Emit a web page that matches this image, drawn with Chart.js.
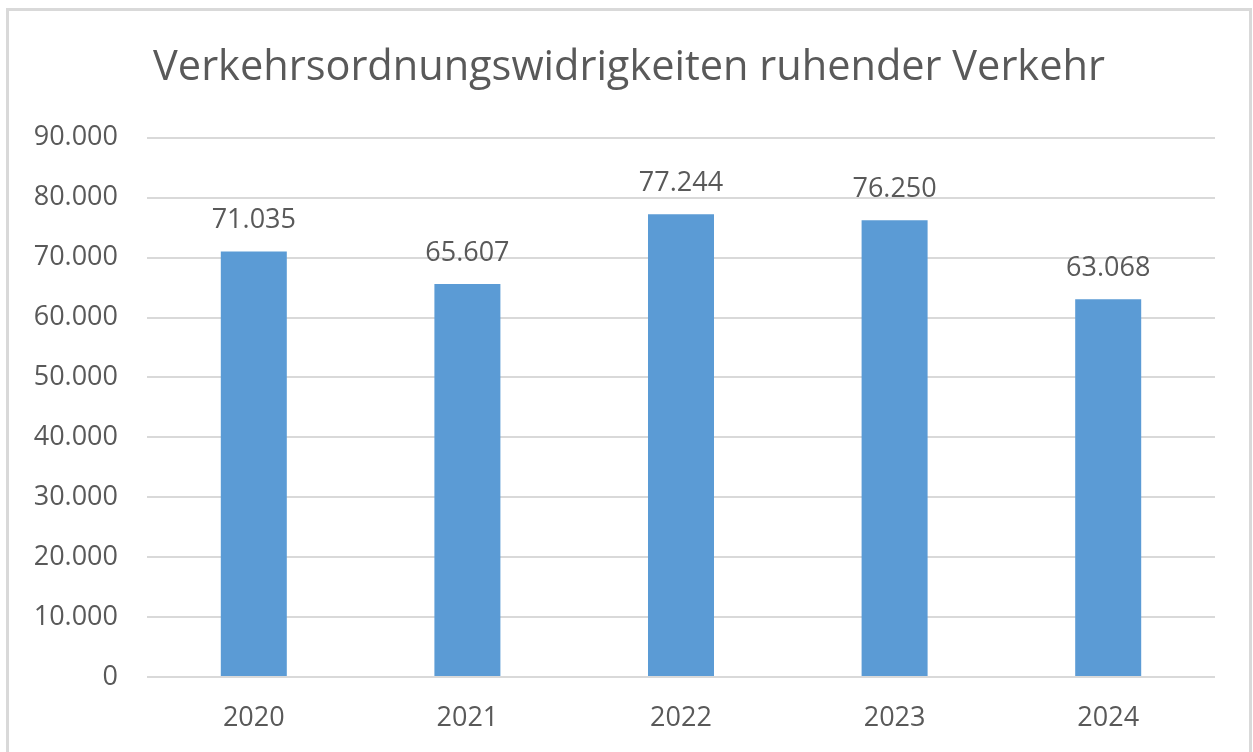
<!DOCTYPE html>
<html>
<head>
<meta charset="utf-8">
<script src="https://cdn.jsdelivr.net/npm/chart.js@4.4.1/dist/chart.umd.min.js"></script>
<style>
  html, body { margin: 0; padding: 0; background: #fff; overflow: hidden; }
  #frame { position: absolute; left: 6px; top: 8px; width: 1240px; height: 760px; border: 3px solid #d9d9d9; background: #fff; }
  #wrap { position: absolute; left: 0; top: 0; width: 1240px; height: 741px; }
</style>
</head>
<body>
<div id="frame"><div id="wrap"><canvas id="c"></canvas></div></div>
<script>
const categories = ["2020", "2021", "2022", "2023", "2024"];
const values = [71035, 65607, 77244, 76250, 63068];
const yTicks = [0, 10000, 20000, 30000, 40000, 50000, 60000, 70000, 80000, 90000];
const titleText = "Verkehrsordnungswidrigkeiten ruhender Verkehr";

const FONT = "'Open Sans', 'Liberation Sans', sans-serif";
const TEXT = "#595959";
const fmt = v => v.toLocaleString('de-DE');

const valueLabels = {
  id: 'valueLabels',
  afterDatasetsDraw(chart) {
    const ctx = chart.ctx;
    const meta = chart.getDatasetMeta(0);
    ctx.save();
    ctx.font = "27px " + FONT;
    ctx.fillStyle = TEXT;
    ctx.textAlign = 'center';
    ctx.textBaseline = 'alphabetic';
    meta.data.forEach((bar, i) => {
      ctx.fillText(fmt(values[i]), bar.x, bar.y - 23);
    });
    ctx.restore();
  }
};

new Chart(document.getElementById('c'), {
  type: 'bar',
  data: {
    labels: categories,
    datasets: [{
      data: values,
      backgroundColor: '#5b9bd5',
      borderWidth: 0,
      categoryPercentage: 0.309,
      barPercentage: 1
    }]
  },
  options: {
    responsive: true,
    maintainAspectRatio: false,
    animation: false,
    layout: { padding: { left: 0, right: 0, top: 0, bottom: 0 } },
    plugins: {
      legend: { display: false },
      tooltip: { enabled: false },
      title: {
        display: true,
        text: titleText,
        color: TEXT,
        font: { family: FONT, size: 41.5, weight: 'normal' },
        padding: { top: 32, bottom: 45 }
      }
    },
    scales: {
      x: {
        grid: { display: false },
        border: { display: false },
        ticks: { color: TEXT, font: { family: FONT, size: 27 }, padding: 17 },
        afterFit(s) { s.height = 75; }
      },
      y: {
        min: 0,
        max: 90000,
        afterBuildTicks(s) { s.ticks = yTicks.map(v => ({ value: v })); },
        grid: { color: '#d9d9d9', lineWidth: 2, drawTicks: false },
        border: { display: false },
        ticks: {
          color: TEXT,
          font: { family: FONT, size: 27 },
          padding: 29,
          callback: v => fmt(v)
        },
        afterFit(s) { s.width = 138; }
      },
      ySpacer: {
        position: 'right',
        min: 0,
        max: 90000,
        grid: { display: false, drawTicks: false },
        border: { display: false },
        ticks: { display: false },
        afterFit(s) { s.width = 34; }
      }
    }
  },
  plugins: [valueLabels]
});
</script>
</body>
</html>
